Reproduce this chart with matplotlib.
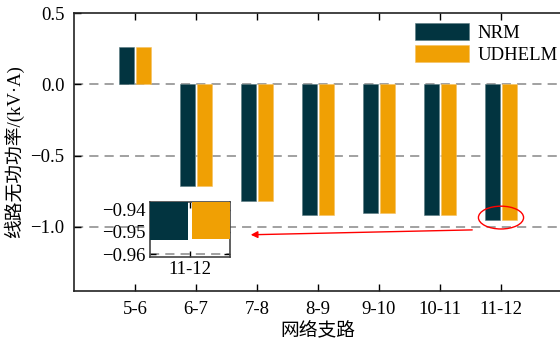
import numpy as np
import matplotlib
matplotlib.use('Agg')
import matplotlib.pyplot as plt
from matplotlib.patches import Ellipse

branches = ['5-6', '6-7', '7-8', '8-9', '9-10', '10-11', '11-12']
nrm = [0.26, -0.71, -0.82, -0.92, -0.90, -0.92, -0.9535]
udhelm = [0.26, -0.71, -0.82, -0.92, -0.90, -0.92, -0.9532]
yticks = [0.5, 0.0, -0.5, -1.0]
inset_yticks = [-0.94, -0.95, -0.96]

c_nrm = '#023440'
c_ud = '#F0A004'
fonts = ['Liberation Serif', 'Noto Sans CJK SC']
plt.rcParams['font.family'] = fonts
plt.rcParams['font.size'] = 13.5
plt.rcParams['axes.unicode_minus'] = True

fig = plt.figure(figsize=(5.6, 3.42), dpi=100)
ax = fig.add_axes([74/560, 1-291/342, 488/560, 278/342])

x = np.arange(len(branches))
w = 0.25
off = 0.14
ax.bar(x - off, nrm, w, color=c_nrm, edgecolor='#5a7a80', linewidth=0.4, label='NRM', zorder=3)
ax.bar(x + off, udhelm, w, color=c_ud, edgecolor='#f5c060', linewidth=0.4, label='UDHELM', zorder=3)

for yv in yticks[1:]:
    ax.axhline(yv, color='#888888', lw=1.1, ls=(0, (6, 4)), zorder=1)

ax.set_xlim(-1, 7)
ax.set_ylim(-1.45, 0.5)
ax.set_xticks(x)
ax.set_xticklabels(branches)
ax.set_yticks(yticks)
ax.set_yticklabels(['%.1f' % v if v >= 0 else '\u2212%.1f' % abs(v) for v in yticks])
ax.tick_params(direction='in', top=True, right=False, length=5, width=1, pad=7)
for s in ax.spines.values():
    s.set_linewidth(1.2)
    s.set_color('#222222')
ax.spines['right'].set_visible(False)
ax.set_xlabel('网络支路', fontsize=13.5, labelpad=3)
ax.set_ylabel('线路无功功率/(kV·A)', fontsize=13.5, labelpad=4)

ax.legend(loc='upper left', bbox_to_anchor=(0.699, 0.965), frameon=False,
          borderpad=0, borderaxespad=0, handlelength=2.9, handleheight=1.0,
          handletextpad=0.45, labelspacing=0.2, fontsize=13.5)

# highlight of the last branch
ax.add_patch(Ellipse((6.0, -0.935), 0.74, 0.16, fill=False, ec='red', lw=1.0, zorder=5))
ax.annotate('', xy=(1.852, -1.056), xytext=(5.574, -1.021),
            arrowprops=dict(arrowstyle='-|>', color='red', lw=1.0, mutation_scale=10), zorder=5)

# zoomed inset
ins = fig.add_axes([150/560, 1-256.5/342, 80/560, 54.5/342])
ins.bar([6 - off], [nrm[-1]], w, color=c_nrm, zorder=3)
ins.bar([6 + off], [udhelm[-1]], w, color=c_ud, zorder=3)
ins.axhline(-0.96, color='#888888', lw=1.1, ls=(0, (6, 4)), zorder=1)
ins.set_xlim(6 - off - w/2, 6 + off + w/2)
ins.set_ylim(-0.9611, -0.9365)
ins.set_xticks([6])
ins.set_xticklabels([branches[-1]])
ins.set_yticks(inset_yticks)
ins.set_yticklabels(['\u2212%.2f' % abs(v) for v in inset_yticks])
ins.tick_params(direction='in', top=True, right=True, length=4, width=1, pad=3)
for s in ins.spines.values():
    s.set_linewidth(1.2)
    s.set_color('#444444')

fig.savefig('out.png', dpi=100)
